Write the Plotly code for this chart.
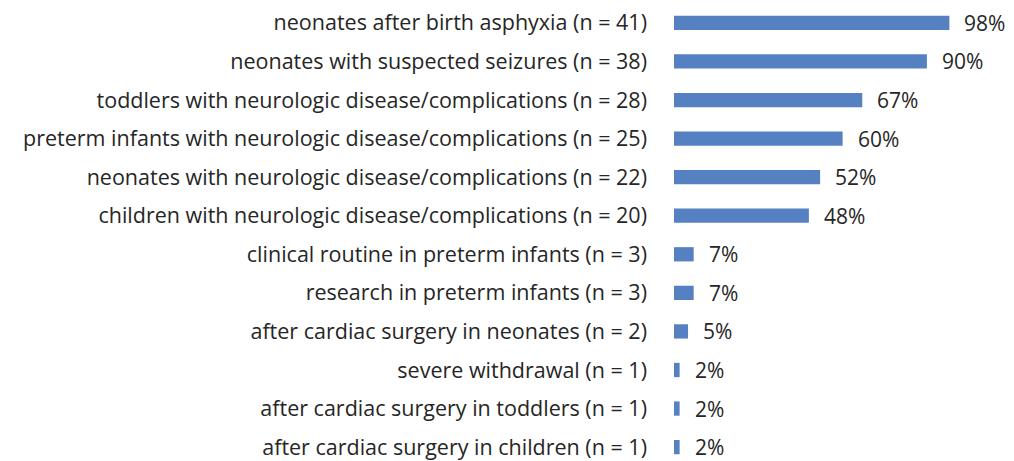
import plotly.graph_objects as go

# ── DATA ──────────────────────────────────────────────────────────────────────
categories = [
    "neonates after birth asphyxia (n = 41)",
    "neonates with suspected seizures (n = 38)",
    "toddlers with neurologic disease/complications (n = 28)",
    "preterm infants with neurologic disease/complications (n = 25)",
    "neonates with neurologic disease/complications (n = 22)",
    "children with neurologic disease/complications (n = 20)",
    "clinical routine in preterm infants (n = 3)",
    "research in preterm infants (n = 3)",
    "after cardiac surgery in neonates (n = 2)",
    "severe withdrawal (n = 1)",
    "after cardiac surgery in toddlers (n = 1)",
    "after cardiac surgery in children (n = 1)",
]
percent = [98, 90, 67, 60, 52, 48, 7, 7, 5, 2, 2, 2]

BAR_COLOR = "#5580C2"
TEXT_COLOR = "#262626"
FONT = "'Open Sans', Lato, sans-serif"

fig = go.Figure(
    go.Bar(
        x=percent,
        y=categories,
        orientation="h",
        marker=dict(color=BAR_COLOR, line=dict(width=0)),
        hoverinfo="skip",
    )
)

# ── VALUE LABELS ──────────────────────────────────────────────────────────────
for cat, val in zip(categories, percent):
    fig.add_annotation(
        x=val, y=cat,
        text=f"{val}%",
        showarrow=False,
        xanchor="left",
        xshift=13,
        font=dict(family=FONT, size=21, color=TEXT_COLOR),
    )

# ── LAYOUT ────────────────────────────────────────────────────────────────────
# page body adds an 8px offset, so the figure is sized to the visible area
fig.update_layout(
    width=1006,
    height=453,
    margin=dict(l=666, r=59, t=0, b=0),
    bargap=0.63,
    showlegend=False,
    plot_bgcolor="white",
    paper_bgcolor="white",
    font=dict(family=FONT, size=21.5, color=TEXT_COLOR),
    xaxis=dict(
        range=[0, 100],
        visible=False,
        fixedrange=True,
    ),
    yaxis=dict(
        range=[11.36, -0.309],
        showgrid=False,
        zeroline=False,
        showline=False,
        ticks="",
        ticklabelstandoff=26,
        tickfont=dict(family=FONT, size=21.5, color=TEXT_COLOR),
        fixedrange=True,
    ),
)

fig.write_html("out.html")
